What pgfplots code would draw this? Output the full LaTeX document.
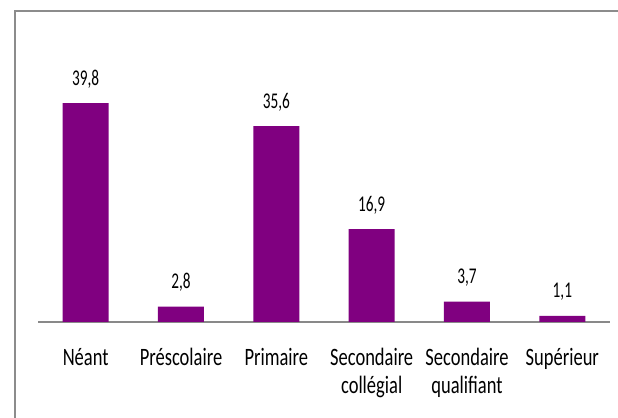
\documentclass[border=0pt]{standalone}
\usepackage{fontspec}
\setmainfont{Carlito}[FakeStretch=0.74]
\newfontfamily\valfont{Carlito}[FakeStretch=0.68]
\usepackage{pgfplots}
\pgfplotsset{compat=1.18}
\definecolor{barpurple}{RGB}{128,0,128}
\definecolor{axgray}{RGB}{137,137,137}
\definecolor{framegray}{RGB}{140,140,140}
\begin{document}
\begin{tikzpicture}
\path[use as bounding box] (0,0) rectangle (618bp,418bp);
\draw[framegray, line width=2bp] (15bp,0) -- (15bp,407bp) -- (618bp,407bp);
\begin{axis}[
  at={(38bp,96bp)}, anchor=south west,
  scale only axis, width=572bp, height=220bp,
  xmin=-0.5, xmax=5.5, ymin=0, ymax=40,
  axis x line=bottom, axis y line=none,
  x axis line style={-, draw=axgray, line width=2bp},
  xtick=data, major tick length=0pt,
  xticklabels={N\'eant, Pr\'escolaire, Primaire, {Secondaire\\coll\'egial}, {Secondaire\\qualifiant}, Sup\'erieur},
  xticklabel style={anchor=north, align=center, inner sep=0pt, yshift=-26bp, font=\fontsize{25bp}{28bp}\selectfont, text=black},
  ytick=\empty,
  clip=false,
  /pgf/number format/assume math mode=true,
  nodes near coords={\pgfmathprintnumber[fixed, precision=1, fixed zerofill, use comma]{\pgfplotspointmeta}},
  every node near coord/.append style={anchor=base, yshift=18bp, inner sep=0pt, font=\valfont\fontsize{22.5bp}{24bp}\selectfont, text=black},
]
\addplot[ybar, bar width=46bp, fill=barpurple, draw=none] coordinates {
  (0,39.8) (1,2.8) (2,35.6) (3,16.9) (4,3.7) (5,1.1)
};
\end{axis}
\end{tikzpicture}
\end{document}
